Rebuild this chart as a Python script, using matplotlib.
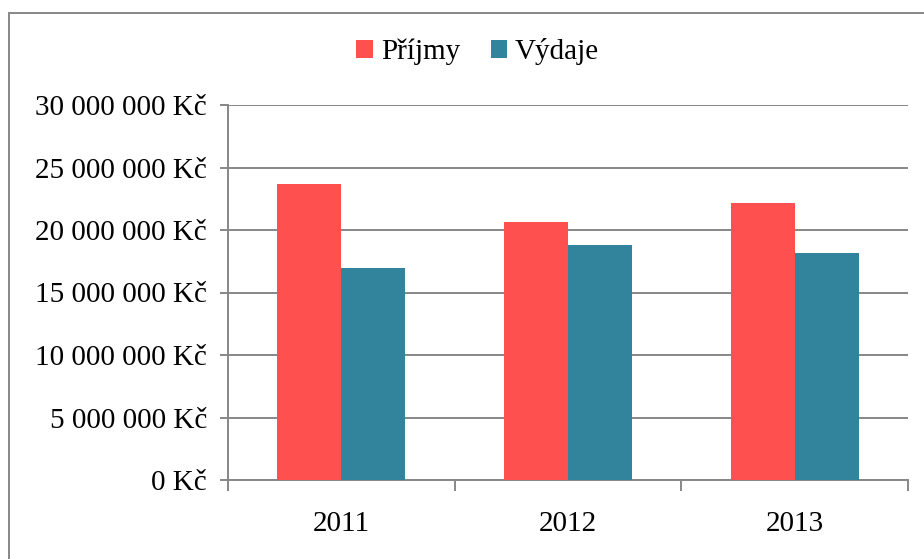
import matplotlib
matplotlib.use("Agg")
import matplotlib.pyplot as plt  # noqa: E402
import numpy as np  # noqa: E402
from matplotlib.patches import Rectangle  # noqa: E402
from matplotlib.ticker import FuncFormatter, FixedLocator  # noqa: E402

years = ["2011", "2012", "2013"]
prijmy = [23_720_000, 20_640_000, 22_190_000]
vydaje = [16_950_000, 18_820_000, 18_180_000]
series_labels = ["Příjmy", "Výdaje"]
colors = ["#FF5050", "#31849B"]

plt.rcParams["font.family"] = ["Liberation Serif", "DejaVu Serif"]
FS = 21
GRID = "#878787"

fig = plt.figure(figsize=(9.24, 5.59), dpi=100)
ax = fig.add_axes([228 / 924, 1 - 480 / 559, (908 - 228) / 924, (480 - 105) / 559])

x = np.arange(len(years))
w = 0.282
ax.bar(x - w / 2, prijmy, w, color=colors[0], label=series_labels[0], zorder=3)
ax.bar(x + w / 2, vydaje, w, color=colors[1], label=series_labels[1], zorder=3)

ax.set_xlim(-0.5, len(years) - 0.5)
ax.set_ylim(0, 30_000_000)
ax.set_yticks(np.arange(0, 30_000_001, 5_000_000))
ax.yaxis.set_major_formatter(FuncFormatter(lambda v, _: f"{v:,.0f}".replace(",", " ") + " Kč"))
ax.grid(axis="y", color=GRID, linewidth=1.4, zorder=0)

# category labels centered, tick marks at boundaries
ax.set_xticks(x)
ax.set_xticklabels(years)
ax.xaxis.set_minor_locator(FixedLocator(np.arange(-0.5, len(years), 1.0)))
ax.tick_params(axis="x", which="major", length=0, pad=22, labelsize=FS)
ax.tick_params(axis="x", which="minor", length=8, width=1.4, color=GRID)
ax.tick_params(axis="y", length=6, width=1.4, color=GRID, pad=9, labelsize=FS)

for s in ["top", "right"]:
    ax.spines[s].set_visible(False)
for s in ["left", "bottom"]:
    ax.spines[s].set_color(GRID)
    ax.spines[s].set_linewidth(1.4)

fig.legend(loc="center", bbox_to_anchor=(0.517, 0.907), ncol=2, frameon=False,
           fontsize=FS, handlelength=0.56, handleheight=0.56,
           handletextpad=0.28, columnspacing=1.05)

# outer chart border
fig.patches.append(Rectangle((9 / 924, -0.1), 1.2, 1 - 13 / 559 + 0.1,
                             transform=fig.transFigure, fill=False,
                             edgecolor=GRID, linewidth=1.4))

fig.savefig("out.png", dpi=100)
